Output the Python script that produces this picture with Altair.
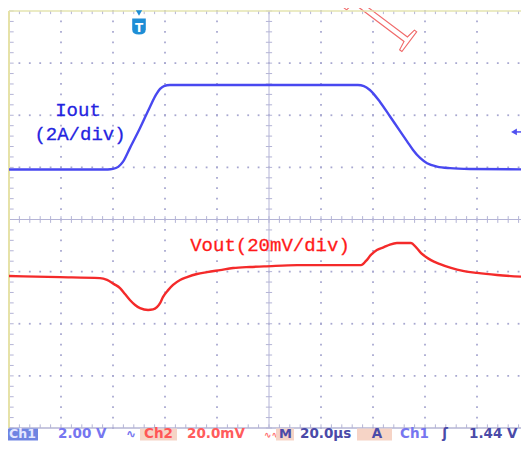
import altair as alt
import numpy as np
import pandas as pd

# ---------------- data ----------------
# time in microseconds (20 us/div, screen centre = 0)
T_IOUT = [-100, -62, -60, -58, -56.2, -53.5, -49.6, -45.8, -43.5, -41.9, -40.4, -38.1,
          34.2, 36.5, 38.8, 42.7, 46.5, 50.4, 53.1, 55.4, 58.1, 60.8, 64.6, 69.6, 77.3, 100]
IOUT_A = [0, 0, 0.02, 0.10, 0.29, 0.82, 1.59, 2.40, 2.86, 3.09, 3.20, 3.24,
          3.24, 3.20, 3.05, 2.59, 2.04, 1.47, 1.08, 0.75, 0.44, 0.24, 0.11, 0.05, 0.02, 0.0]

T_VOUT = [-100, -80.4, -65.0, -62.3, -59.6, -57.3, -55.4, -53.5, -51.5, -49.6, -46.5, -44.6,
          -43.1, -41.9, -40.8, -38.8, -36.9, -34.2, -31.5, -27.7, -23.8, -18.8, -13.8, -7.3,
          -1.9, 10.8, 35.4, 37.3, 39.2, 41.5, 44.2, 46.5, 49.2, 54.6, 56.5, 58.5, 60.4, 62.3,
          65.8, 70.0, 75.0, 80.0, 87.7, 100]
VOUT_MV = [0.3, -0.1, -0.5, -1.2, -2.8, -4.3, -6.6, -8.9, -10.8, -12.0, -12.7, -12.5,
           -11.6, -10.1, -7.8, -5.1, -3.1, -1.2, -0.1, 1.1, 1.8, 2.6, 3.4, 3.8,
           4.0, 4.5, 4.5, 6.1, 8.4, 10.3, 11.4, 12.4, 13.0, 13.0, 11.4, 9.1, 7.6, 6.4,
           4.9, 3.4, 2.2, 1.5, 0.7, -0.1]

CH1_POS = 0.96      # divisions above centre (ch1 ground)
CH2_POS = -1.10     # divisions (ch2 reference)
A_PER_DIV = 2
MV_PER_DIV = 20
TRIG_T = -50
TRIG_LEVEL = 1.44

LABEL_I = ["Iout", "(2A/div)"]
LABEL_V = "Vout(20mV/div)"

# ---------------- scales / helpers ----------------
# 52 px per 20 us division; the right edge of the screen is cut by the window
W, H = 512, 417
T_MAX = -100 + W / 2.6
xs = alt.Scale(domain=[-100, T_MAX], nice=False, zero=False)
ys = alt.Scale(domain=[-4, 4], nice=False, zero=False)


def X(f="t"):
    return alt.X(f"{f}:Q", scale=xs, axis=None)


def Y(f="y"):
    return alt.Y(f"{f}:Q", scale=ys, axis=None)


def XD(v):
    return alt.XDatum(v, scale=xs, axis=None)


def YD(v):
    return alt.YDatum(v, scale=ys, axis=None)


one = pd.DataFrame({"a": [0]})

major_t = [-80, -60, -40, -20, 20, 40, 60, 80]
major_y = [-3, -2, -1, 1, 2, 3]
minor_t = [round(v, 3) for v in np.arange(-100, T_MAX, 4)]
minor_y = [round(v, 3) for v in np.arange(-4, 4.001, 0.2)]

dots = pd.DataFrame([(t, y) for t in major_t for y in minor_y] +
                    [(t, y) for y in major_y for t in minor_t], columns=["t", "y"])
grid_dots = alt.Chart(dots).mark_square(size=3.2, color="#a8a8d0", opacity=1).encode(x=X(), y=Y())

GRIDC = "#b4b4d6"
ct = pd.DataFrame({"t": minor_t})
cy = pd.DataFrame({"y": minor_y})

center_h = alt.Chart(one).mark_rule(color=GRIDC, strokeWidth=1).encode(
    x=XD(-100), x2=alt.X2Datum(T_MAX), y=YD(0))
center_v = alt.Chart(one).mark_rule(color=GRIDC, strokeWidth=1).encode(
    x=XD(0), y=YD(-4), y2=alt.Y2Datum(4))
ticks_h = alt.Chart(ct).mark_rule(color=GRIDC, strokeWidth=1).encode(
    x=X(), y=YD(0.065), y2=alt.Y2Datum(-0.065))
ticks_v = alt.Chart(cy).mark_rule(color=GRIDC, strokeWidth=1).encode(
    y=Y(), x=XD(-1.2), x2=alt.X2Datum(1.2))
ticks_bot = alt.Chart(ct).mark_rule(color=GRIDC, strokeWidth=1).encode(
    x=X(), y=YD(-4), y2=alt.Y2Datum(-3.93))
ticks_top = alt.Chart(ct).mark_rule(color=GRIDC, strokeWidth=1).encode(
    x=X(), y=YD(4), y2=alt.Y2Datum(3.94))
ticks_left = alt.Chart(cy).mark_rule(color=GRIDC, strokeWidth=1).encode(
    y=Y(), x=XD(-100), x2=alt.X2Datum(-98.2))

border_left = alt.Chart(one).mark_rule(color="#e6e2a8", strokeWidth=2).encode(
    x=XD(-100), y=YD(-4), y2=alt.Y2Datum(4))
border_top = alt.Chart(one).mark_rule(color="#e4e4b0", strokeWidth=1.5).encode(
    x=XD(-100), x2=alt.X2Datum(T_MAX), y=YD(4))
border_bot = alt.Chart(one).mark_rule(color="#b4b4d4", strokeWidth=1.5).encode(
    x=XD(-100), x2=alt.X2Datum(T_MAX), y=YD(-4))

# ---------------- traces ----------------
df_i = pd.DataFrame({"t": T_IOUT, "i": IOUT_A})
df_v = pd.DataFrame({"t": T_VOUT, "v": VOUT_MV})

iout = alt.Chart(df_i).transform_calculate(
    y=f"{CH1_POS} + datum.i / {A_PER_DIV}").mark_line(
    color="#4848f0", strokeWidth=2.4, interpolate="monotone", clip=True).encode(x=X(), y=Y())
vout = alt.Chart(df_v).transform_calculate(
    y=f"{CH2_POS} + datum.v / {MV_PER_DIV}").mark_line(
    color="#f42a2a", strokeWidth=2.4, interpolate="monotone", clip=True).encode(x=X(), y=Y())

# ---------------- labels ----------------
LFONT = "Liberation Mono"
lab_i1 = alt.Chart(one).mark_text(text=LABEL_I[0], font=LFONT, fontSize=19, color="#2424e0",
                                  align="center", baseline="middle", stroke="#2424e0",
                                  strokeWidth=0.3).encode(
    x=alt.value(69), y=alt.value(99))
lab_i2 = alt.Chart(one).mark_text(text=LABEL_I[1], font=LFONT, fontSize=19, color="#2424e0",
                                  align="center", baseline="middle", stroke="#2424e0",
                                  strokeWidth=0.3).encode(
    x=alt.value(71), y=alt.value(123))
lab_v = alt.Chart(one).mark_text(text=LABEL_V, font=LFONT, fontSize=19, color="#ff1a1a",
                                 align="center", baseline="middle", stroke="#ff1a1a",
                                 strokeWidth=0.3).encode(
    x=alt.value(261), y=alt.value(234))

# watermark fragment
water = alt.Chart(one).mark_text(text="N", font="Liberation Sans Narrow", fontSize=110,
                                 fill="white", stroke="#f06a6a", strokeWidth=1.1,
                                 angle=307, align="left", baseline="alphabetic").encode(
    x=alt.value(391), y=alt.value(43))

# trigger position marker
TRIGC = "#1e8ed6"
trig_tri = alt.Chart(one).mark_point(shape="triangle-down", size=40, filled=True,
                                     color=TRIGC, opacity=1).encode(x=XD(TRIG_T), y=alt.value(2))
badge = "M-0.85,-1 L0.85,-1 L0.85,0.35 Q0.85,1 0,1 Q-0.85,1 -0.85,0.35 Z"
trig_badge = alt.Chart(one).mark_point(shape=badge, size=256, filled=True,
                                       color=TRIGC, opacity=1).encode(x=XD(TRIG_T), y=alt.value(15.5))
trig_t = alt.Chart(one).mark_text(text="T", font="DejaVu Sans", fontWeight="bold", fontSize=12,
                                  color="white", align="center", baseline="middle").encode(
    x=XD(TRIG_T), y=alt.value(16.5))

# trigger level arrow (right edge)
lvl_y = CH1_POS + TRIG_LEVEL / A_PER_DIV
lvl_tri = alt.Chart(one).mark_point(shape="triangle-left", size=45, filled=True,
                                    color="#5050f0", opacity=1).encode(x=alt.value(505), y=YD(lvl_y))
lvl_line = alt.Chart(one).mark_rule(color="#5050f0", strokeWidth=1.5).encode(
    x=alt.value(505), x2=alt.value(512), y=YD(lvl_y))

# ---------------- status bar ----------------
SFONT = "DejaVu Sans"
SB_Y = 426.5
status = []


def box(x0, x1, color, y0=417.5, y1=429.5):
    return alt.Chart(one).mark_rect(color=color).encode(
        x=alt.value(x0), x2=alt.value(x1), y=alt.value(y0), y2=alt.value(y1))


def stext(txt, x, color, align="left", size=13.5):
    return alt.Chart(one).mark_text(text=txt, font=SFONT, fontWeight="bold", fontSize=size,
                                    color=color, align=align, baseline="alphabetic").encode(
        x=alt.value(x), y=alt.value(SB_Y))


PEACH = "#f6d4c6"
DARK = "#4a4aa8"
LIGHT = "#7676f0"
status += [
    box(-2, 29, "#6f84e2"),
    stext("Ch1", 13.5, "#e4e8ff", "center", 12.5),
    stext("2.00 V", 49, LIGHT),
    stext("\u223f", 122, LIGHT, "center", 12),
    box(131, 168, PEACH),
    stext("Ch2", 149.5, "#ff5656", "center"),
    stext("20.0mV", 178, "#ff5c5c"),
    stext("\u223f\u223f", 255, "#ff7070", "left", 9),
    box(267, 285, PEACH),
    stext("M", 276.5, DARK, "center", 13),
    stext("20.0\u00b5s", 291, DARK),
    box(348, 383, PEACH),
    stext("A", 368, DARK, "center"),
    stext("Ch1", 391, LIGHT),
    stext("\u0283", 436, DARK, "center"),
    stext("1.44 V", 460, DARK, "left", 13.5),
]

chart = alt.layer(
    grid_dots, center_h, center_v, ticks_h, ticks_v, ticks_bot, ticks_top, ticks_left,
    border_left, border_bot, water, border_top,
    iout, vout, lab_i1, lab_i2, lab_v, trig_tri, trig_badge, trig_t, lvl_line, lvl_tri,
    *status
).properties(
    width=W, height=H,
    autosize=alt.AutoSizeParams(type="none"),
    padding={"left": 1, "top": 3, "right": 0, "bottom": 13},
    background="white",
).configure_view(stroke=None)

chart.save("out.html", embed_options={"renderer": "svg", "actions": False})
